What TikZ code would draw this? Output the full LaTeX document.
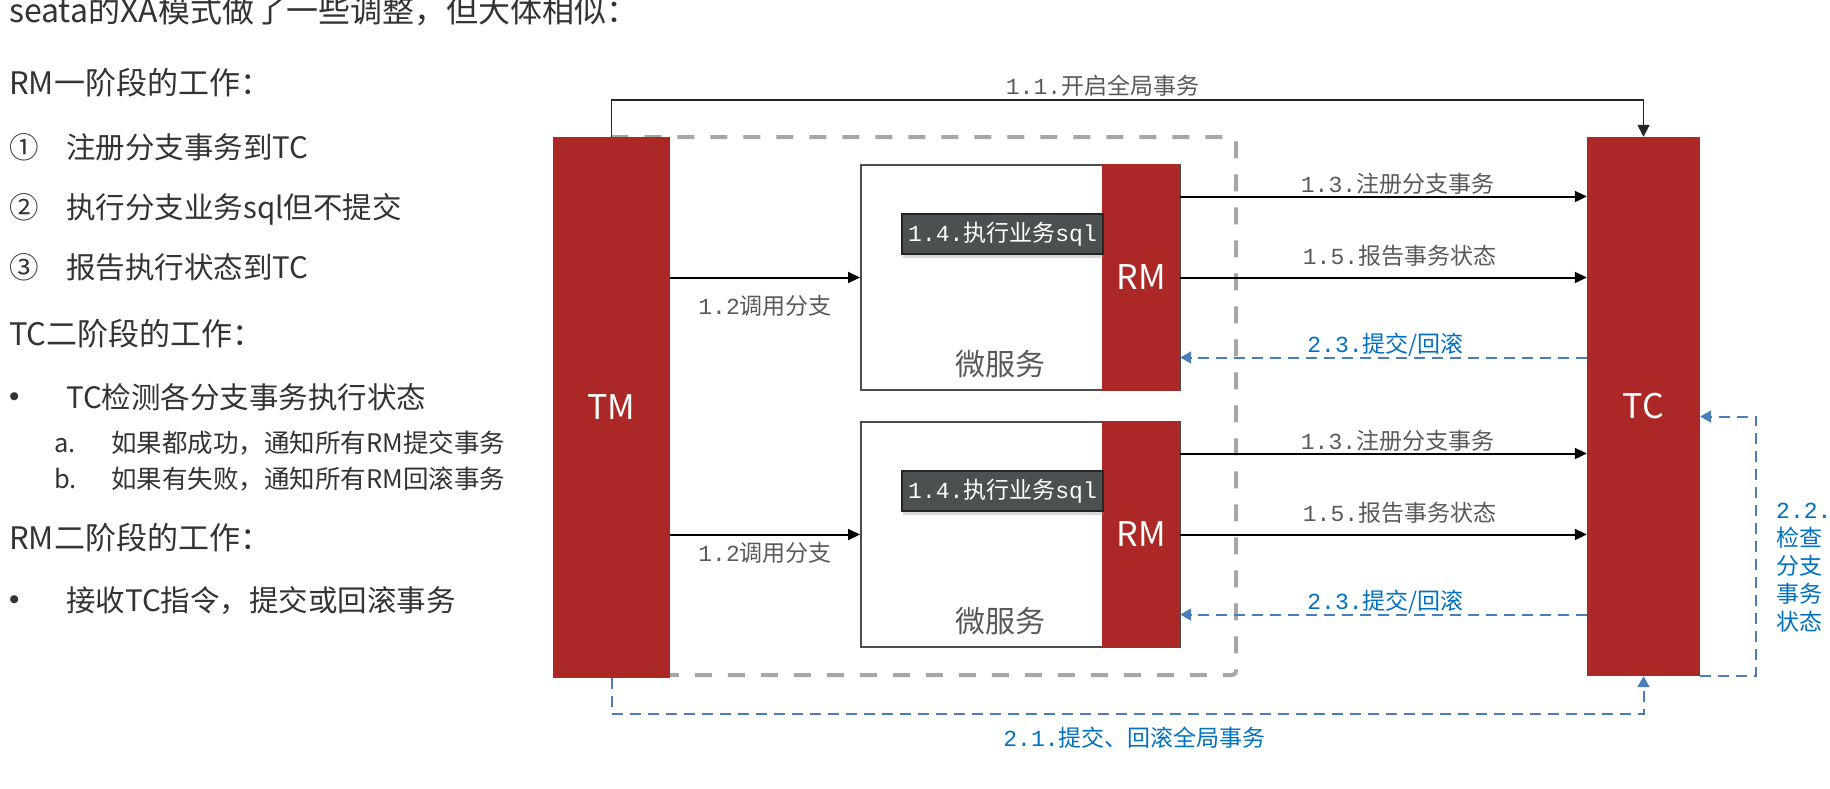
\documentclass[tikz,border=0pt]{standalone}
\usepackage{fontspec}
\setmainfont{Noto Sans CJK SC}
\newfontfamily\monofont{Liberation Mono}
\newfontfamily\dotfont{Liberation Sans}
\usetikzlibrary{arrows.meta,shadows}

\definecolor{xared}{HTML}{AB2826}
\definecolor{svcline}{HTML}{4D4D4D}
\definecolor{sqlfill}{HTML}{4B5150}
\definecolor{lblgray}{HTML}{595959}
\definecolor{txtgray}{HTML}{333333}
\definecolor{backblue}{HTML}{4A7EBB}
\definecolor{backtext}{HTML}{0070C0}
\definecolor{boxdash}{HTML}{A6A6A6}

\newcommand\seq[1]{{\monofont #1}}
\newcommand\fs[1]{\fontsize{#1}{#1}\selectfont}

\tikzset{
  bar/.style={fill=xared, text=white, inner sep=0pt, font=\fs{34}},
  svcbox/.style={draw=svcline, line width=2pt, fill=white,
    minimum width=319pt, minimum height=225pt, inner sep=0pt},
  sqlbox/.style={fill=sqlfill, draw=black!85, line width=1.5pt, text=white,
    font=\fs{23}, minimum width=201pt, minimum height=40pt, inner sep=0pt,
    drop shadow={shadow xshift=1pt, shadow yshift=-4pt, opacity=.3}},
  call/.style={-{Triangle[length=12pt,width=11pt]}, line width=2pt},
  back/.style={-{Triangle[length=11pt,width=12pt]}, backblue, line width=2pt,
    dash pattern=on 11pt off 7pt},
  lbl/.style={text=lblgray, font=\fs{23}, inner sep=2pt},
  blbl/.style={text=backtext, font=\fs{23}, inner sep=2pt},
  head/.style={anchor=base west, text=txtgray, font=\fs{31}, inner sep=0pt},
  item/.style={anchor=base west, text=txtgray, font=\fs{29.5}, inner sep=0pt},
  subitem/.style={anchor=base west, text=txtgray, font=\fs{25.5}, inner sep=0pt},
  dot/.style={anchor=base west, text=txtgray, font=\dotfont\fs{29.5}, inner sep=0pt},
}

\begin{document}
\begin{tikzpicture}[x=1pt,y=-1pt]
  \useasboundingbox (0,0) rectangle (1830,788);

  % notes on the left
  \node[head, font=\fs{32}] (intro) at (9,22) {seata的XA模式做了一些调整，但大体相似：};
  \node[head] (phase1) at (9,94) {RM一阶段的工作：};
  \node[item] (n1) at (9,158) {①};
  \node[item] (t1) at (66,158) {注册分支事务到TC};
  \node[item] (n2) at (9,218) {②};
  \node[item] (t2) at (66,218) {执行分支业务sql但不提交};
  \node[item] (n3) at (9,278) {③};
  \node[item] (t3) at (66,278) {报告执行状态到TC};
  \node[head] (phase2) at (9,345) {TC二阶段的工作：};
  \node[dot] (d1) at (9,406) {•};
  \node[item] (u1) at (66,408) {TC检测各分支事务执行状态};
  \node[subitem] (ka) at (54,452) {a.};
  \node[subitem] (va) at (111,452) {如果都成功，通知所有RM提交事务};
  \node[subitem] (kb) at (54,488) {b.};
  \node[subitem] (vb) at (111,488) {如果有失败，通知所有RM回滚事务};
  \node[head] (phase3) at (9,549) {RM二阶段的工作：};
  \node[dot] (d2) at (9,609) {•};
  \node[item] (u2) at (66,611) {接收TC指令，提交或回滚事务};

  % global transaction frame
  \draw[boxdash, line width=4pt, dash pattern=on 17pt off 16pt, rounded corners=4pt]
    (600,137) rectangle (1236,675);

  \node[bar, minimum width=117pt, minimum height=541pt] (tm) at (611.5,407.5) {TM};
  \node[bar, minimum width=113pt, minimum height=539pt] (tc) at (1643.5,406.5) {TC};

  % two branches
  \foreach \i/\t/\d in {1/165/28, 2/422/18} {
    \node[svcbox] (svc\i) at (1020.5,\t+112.5) {};
    \node[bar, minimum width=78pt, minimum height=227pt] (rm\i) at (1141,\t+112.5) {RM};
    \node[sqlbox] (sql\i) at (1002.5,\t+69) {\seq{1.4.}执行业务\seq{sql}};
    \node[font=\fs{30}, text=lblgray] (ms\i) at (1000,\t+199) {微服务};
    \coordinate (up\i) at ([yshift=81pt]rm\i.east);
    \coordinate (dn\i) at ([yshift=-80pt]rm\i.east);
    \draw[call] (tm.east |- svc\i.west) -- (svc\i.west)
      node[lbl, midway, yshift=-\d pt] {\seq{1.2}调用分支};
    \draw[call] (up\i) -- (up\i -| tc.west)
      node[lbl, midway, xshift=14pt, yshift=13pt] {\seq{1.3.}注册分支事务};
    \draw[call] (rm\i.east) -- (rm\i.east -| tc.west)
      node[lbl, midway, xshift=16pt, yshift=21.5pt] {\seq{1.5.}报告事务状态};
    \draw[back] (dn\i -| tc.west) -- (dn\i)
      node[blbl, midway, xshift=2pt, yshift=12.5pt] {\seq{2.3.}提交/回滚};
  }

  % global begin / end
  \draw[-{Triangle[length=12pt,width=12pt]}, line width=1.8pt, black!85]
    (tm.north) -- ++(0,-37) -| (tc.north)
    node[lbl, pos=0.25, xshift=-25pt, yshift=14pt] {\seq{1.1.}开启全局事务};
  \draw[back] (tm.south) -- ++(0,36) -| (tc.south)
    node[blbl, pos=0.25, xshift=7pt, yshift=-23pt] {\seq{2.1.}提交、回滚全局事务};

  % check branch state
  \coordinate (chk) at ([yshift=-10pt]tc.east);
  \draw[back] (tc.south east) -- ++(56,0) |- (chk);
  \node[blbl, anchor=north west, align=left, inner sep=0pt,
    font=\fontsize{23}{28}\selectfont] (chklbl) at (1776,503)
    {\seq{2.2.}\\检查\\分支\\事务\\状态};
\end{tikzpicture}
\end{document}
